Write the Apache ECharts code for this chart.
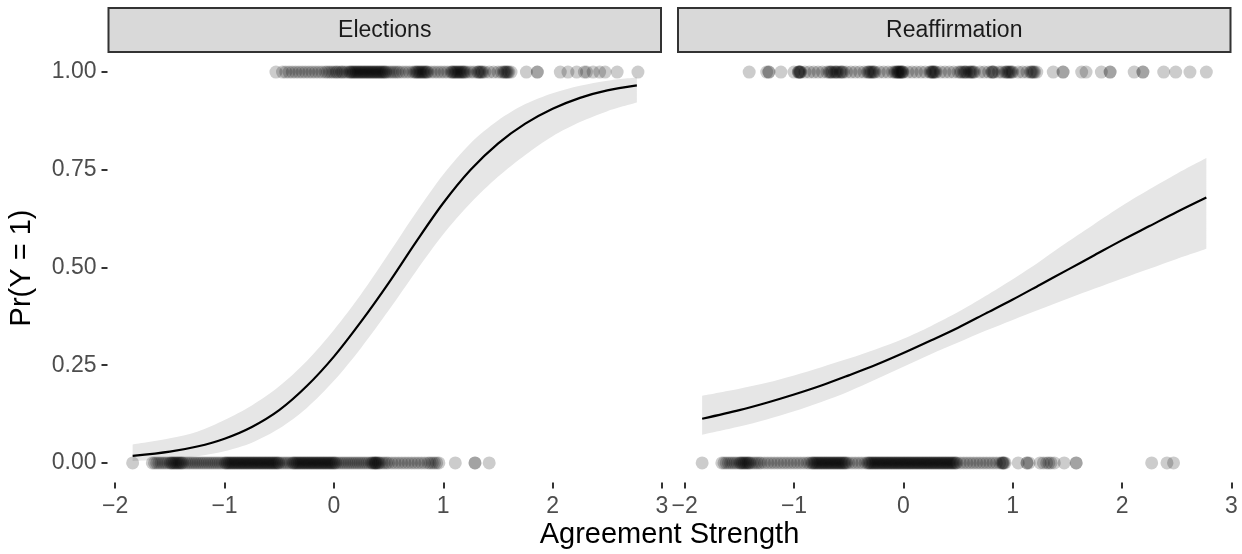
<!DOCTYPE html>
<html>
<head>
<meta charset="utf-8">
<script src="https://cdn.jsdelivr.net/npm/echarts@6/dist/echarts.min.js"></script>
<style>
html,body{margin:0;padding:0;background:#fff;}
#chart{width:1242px;height:554px;}
</style>
</head>
<body>
<div id="chart"></div>
<script>
var panelTitles = ['Elections', 'Reaffirmation'];
var xTicks = [-2, -1, 0, 1, 2, 3];
var yTicks = [0, 0.25, 0.5, 0.75, 1];
var xTitle = 'Agreement Strength';
var yTitle = 'Pr(Y = 1)';

var fitX = [-1.84, -1.5, -1.25, -1.0, -0.75, -0.5, -0.25, 0, 0.25, 0.5, 0.75, 1.0, 1.25, 1.5, 1.75, 2.0, 2.25, 2.5, 2.77];

var elecFit = [0.018, 0.029, 0.042, 0.062, 0.092, 0.135, 0.196, 0.272, 0.362, 0.46, 0.565, 0.665, 0.75, 0.817, 0.868, 0.906, 0.934, 0.953, 0.966];
var elecLo  = [0.005, 0.010, 0.017, 0.030, 0.052, 0.088, 0.140, 0.210, 0.295, 0.39, 0.49, 0.585, 0.665, 0.732, 0.788, 0.836, 0.872, 0.900, 0.922];
var elecHi  = [0.047, 0.063, 0.080, 0.110, 0.147, 0.196, 0.260, 0.340, 0.432, 0.535, 0.64, 0.738, 0.818, 0.876, 0.918, 0.946, 0.965, 0.978, 0.986];

var reafFit = [0.113, 0.135, 0.154, 0.175, 0.198, 0.224, 0.251, 0.281, 0.313, 0.346, 0.382, 0.418, 0.456, 0.494, 0.532, 0.570, 0.606, 0.642, 0.679];
var reafLo  = [0.072, 0.093, 0.111, 0.132, 0.156, 0.183, 0.214, 0.246, 0.278, 0.308, 0.338, 0.366, 0.393, 0.420, 0.446, 0.472, 0.497, 0.522, 0.548];
var reafHi  = [0.172, 0.190, 0.205, 0.224, 0.245, 0.267, 0.291, 0.318, 0.350, 0.386, 0.427, 0.470, 0.516, 0.565, 0.612, 0.658, 0.700, 0.740, 0.780];

var elecYes = [-0.53,-0.47,-0.44,-0.41,-0.38,-0.35,-0.32,-0.29,-0.26,-0.23,-0.2,-0.17,-0.14,-0.11,-0.08,-0.06,-0.04,-0.02,0.0,0.02,0.03,0.05,0.07,0.08,0.1,0.12,0.14,0.15,0.16,0.17,0.18,0.19,0.2,0.21,0.22,0.23,0.24,0.25,0.26,0.27,0.28,0.29,0.3,0.31,0.32,0.33,0.34,0.35,0.36,0.37,0.38,0.39,0.4,0.41,0.42,0.43,0.44,0.45,0.46,0.47,0.48,0.5,0.52,0.54,0.56,0.58,0.6,0.63,0.66,0.69,0.72,0.74,0.75,0.76,0.77,0.78,0.79,0.8,0.81,0.82,0.83,0.84,0.85,0.86,0.89,0.92,0.95,0.98,1.01,1.04,1.07,1.08,1.09,1.1,1.11,1.12,1.13,1.14,1.15,1.16,1.17,1.18,1.19,1.2,1.22,1.25,1.28,1.31,1.32,1.33,1.34,1.35,1.36,1.38,1.42,1.46,1.5,1.53,1.55,1.56,1.57,1.58,1.59,1.6,1.62,1.76,1.86,1.86,2.07,2.14,2.22,2.29,2.31,2.37,2.43,2.48,2.59,2.78];
var elecNo = [-1.84,-1.66,-1.64,-1.62,-1.6,-1.58,-1.56,-1.54,-1.52,-1.5,-1.49,-1.48,-1.47,-1.46,-1.45,-1.44,-1.43,-1.42,-1.41,-1.4,-1.39,-1.38,-1.36,-1.34,-1.32,-1.3,-1.28,-1.26,-1.24,-1.22,-1.2,-1.18,-1.16,-1.14,-1.12,-1.1,-1.08,-1.06,-1.04,-1.02,-1.0,-0.99,-0.98,-0.97,-0.96,-0.95,-0.94,-0.93,-0.92,-0.91,-0.9,-0.89,-0.88,-0.87,-0.86,-0.85,-0.84,-0.83,-0.82,-0.81,-0.8,-0.79,-0.78,-0.77,-0.76,-0.75,-0.74,-0.73,-0.72,-0.71,-0.7,-0.69,-0.68,-0.67,-0.66,-0.65,-0.64,-0.63,-0.62,-0.61,-0.6,-0.59,-0.58,-0.57,-0.56,-0.55,-0.54,-0.53,-0.52,-0.51,-0.5,-0.48,-0.46,-0.44,-0.42,-0.4,-0.38,-0.37,-0.36,-0.35,-0.34,-0.33,-0.32,-0.31,-0.3,-0.29,-0.28,-0.27,-0.26,-0.25,-0.24,-0.23,-0.22,-0.21,-0.2,-0.19,-0.18,-0.17,-0.16,-0.15,-0.14,-0.13,-0.12,-0.11,-0.1,-0.09,-0.08,-0.07,-0.06,-0.05,-0.04,-0.03,-0.02,-0.01,0.0,0.01,0.02,0.04,0.06,0.08,0.1,0.12,0.14,0.16,0.18,0.2,0.22,0.24,0.26,0.28,0.3,0.32,0.34,0.35,0.36,0.37,0.38,0.38,0.39,0.4,0.41,0.42,0.44,0.46,0.48,0.5,0.53,0.56,0.59,0.62,0.65,0.68,0.71,0.74,0.77,0.8,0.83,0.86,0.88,0.9,0.92,0.94,0.96,1.11,1.29,1.29,1.42];
var reafYes = [-1.41,-1.25,-1.23,-1.23,-1.12,-1.0,-0.96,-0.96,-0.95,-0.95,-0.94,-0.94,-0.9,-0.86,-0.82,-0.78,-0.74,-0.7,-0.68,-0.67,-0.66,-0.65,-0.63,-0.62,-0.61,-0.6,-0.58,-0.57,-0.56,-0.55,-0.52,-0.48,-0.44,-0.4,-0.36,-0.33,-0.32,-0.31,-0.3,-0.29,-0.28,-0.27,-0.26,-0.22,-0.18,-0.14,-0.1,-0.08,-0.07,-0.06,-0.05,-0.05,-0.04,-0.03,-0.03,-0.02,-0.01,-0.01,0.0,0.04,0.08,0.12,0.16,0.2,0.24,0.25,0.26,0.27,0.27,0.28,0.29,0.3,0.34,0.38,0.42,0.46,0.5,0.52,0.53,0.55,0.56,0.57,0.58,0.6,0.61,0.62,0.63,0.64,0.65,0.7,0.74,0.78,0.81,0.81,0.82,0.83,0.87,0.9,0.93,0.94,0.95,0.96,0.97,0.98,0.99,1.0,1.05,1.09,1.13,1.16,1.17,1.18,1.19,1.2,1.22,1.37,1.46,1.46,1.63,1.67,1.81,1.89,1.89,2.11,2.19,2.19,2.38,2.49,2.62,2.77];
var reafNo = [-1.84,-1.66,-1.64,-1.62,-1.6,-1.58,-1.56,-1.54,-1.52,-1.5,-1.49,-1.48,-1.47,-1.46,-1.45,-1.44,-1.43,-1.42,-1.41,-1.4,-1.38,-1.36,-1.34,-1.32,-1.3,-1.27,-1.24,-1.21,-1.18,-1.15,-1.12,-1.09,-1.06,-1.03,-1.0,-0.97,-0.94,-0.91,-0.88,-0.86,-0.84,-0.83,-0.82,-0.81,-0.8,-0.79,-0.78,-0.77,-0.76,-0.75,-0.74,-0.73,-0.72,-0.71,-0.7,-0.69,-0.68,-0.67,-0.66,-0.65,-0.64,-0.63,-0.62,-0.61,-0.6,-0.59,-0.58,-0.57,-0.56,-0.55,-0.54,-0.53,-0.52,-0.5,-0.47,-0.44,-0.41,-0.38,-0.35,-0.33,-0.32,-0.31,-0.3,-0.29,-0.28,-0.27,-0.26,-0.25,-0.24,-0.23,-0.22,-0.21,-0.2,-0.19,-0.18,-0.17,-0.16,-0.15,-0.14,-0.13,-0.12,-0.11,-0.1,-0.09,-0.08,-0.07,-0.06,-0.05,-0.04,-0.03,-0.02,-0.01,0.0,0.01,0.02,0.03,0.04,0.05,0.06,0.07,0.08,0.09,0.1,0.11,0.12,0.13,0.14,0.15,0.16,0.17,0.18,0.19,0.2,0.21,0.22,0.23,0.24,0.25,0.26,0.27,0.28,0.29,0.3,0.31,0.32,0.33,0.34,0.35,0.36,0.37,0.38,0.39,0.4,0.41,0.42,0.43,0.44,0.45,0.46,0.47,0.48,0.49,0.52,0.55,0.58,0.61,0.64,0.67,0.7,0.73,0.76,0.79,0.82,0.85,0.88,0.9,0.91,0.91,0.92,0.93,1.05,1.13,1.13,1.15,1.25,1.28,1.31,1.33,1.35,1.38,1.47,1.58,1.58,2.27,2.41,2.47];

var FONT = '"Liberation Sans", Arial, Helvetica, sans-serif';
var chart = echarts.init(document.getElementById('chart'), null, {renderer: 'canvas'});

function pairs(xs, ys) { return xs.map(function (x, i) { return [x, ys[i]]; }); }
function constPairs(xs, v) { return xs.map(function (x) { return [x, v]; }); }
function fmtX(v) { return v < 0 ? '\u2212' + Math.abs(v) : String(v); }

var G = [{left: 107.5, top: 52.5, width: 554.5, height: 430}, {left: 677, top: 52.5, width: 554.5, height: 430}];

function xAxisCfg(i) {
  return {
    gridIndex: i, type: 'value', min: -2.07, max: 3.0,
    axisLine: {show: false, onZero: false},
    axisTick: {show: true, length: 6, lineStyle: {color: '#333333', width: 2}, customValues: xTicks},
    axisLabel: {customValues: xTicks, formatter: fmtX, color: '#4D4D4D', fontSize: 23, fontFamily: FONT, margin: 13},
    splitLine: {show: false}
  };
}
function yAxisCfg(i) {
  return {
    gridIndex: i, type: 'value', min: -0.05, max: 1.05,
    axisLine: {show: false, onZero: false},
    axisTick: {show: i === 0, length: 6, lineStyle: {color: '#333333', width: 2}, customValues: yTicks},
    axisLabel: {show: i === 0, customValues: yTicks, formatter: function (v) { return v.toFixed(2); }, color: '#4D4D4D', fontSize: 23, fontFamily: FONT, margin: 11},
    splitLine: {show: false}
  };
}

var panels = [
  {yes: elecYes, no: elecNo, fit: elecFit, lo: elecLo, hi: elecHi},
  {yes: reafYes, no: reafNo, fit: reafFit, lo: reafLo, hi: reafHi}
];

var series = [];
panels.forEach(function (p, i) {
  // confidence band: lower bound, then (upper - lower) stacked on it; rows are [y, x] so the stack runs along y
  series.push({
    type: 'line', xAxisIndex: i, yAxisIndex: i, stack: 'band' + i,
    data: fitX.map(function (x, k) { return [p.lo[k], x]; }), encode: {x: 1, y: 0},
    symbol: 'none', smooth: 0.3, lineStyle: {width: 0, opacity: 0}, silent: true, z: 1
  });
  series.push({
    type: 'line', xAxisIndex: i, yAxisIndex: i, stack: 'band' + i,
    data: fitX.map(function (x, k) { return [p.hi[k] - p.lo[k], x]; }), encode: {x: 1, y: 0},
    symbol: 'none', smooth: 0.3, lineStyle: {width: 0, opacity: 0},
    areaStyle: {color: '#E6E6E6', opacity: 1}, silent: true, z: 1
  });
  series.push({
    type: 'scatter', xAxisIndex: i, yAxisIndex: i, data: constPairs(p.yes, 1),
    symbolSize: 13, itemStyle: {color: 'rgba(0,0,0,0.25)', borderWidth: 0}, silent: true, z: 2
  });
  series.push({
    type: 'scatter', xAxisIndex: i, yAxisIndex: i, data: constPairs(p.no, 0),
    symbolSize: 13, itemStyle: {color: 'rgba(0,0,0,0.25)', borderWidth: 0}, silent: true, z: 2
  });
  series.push({
    type: 'line', xAxisIndex: i, yAxisIndex: i, data: pairs(fitX, p.fit),
    symbol: 'none', smooth: 0.3, lineStyle: {color: '#000000', width: 2.2}, silent: true, z: 3
  });
});

var graphics = [];
G.forEach(function (g, i) {
  graphics.push({
    type: 'rect', shape: {x: g.left + 1, y: 8, width: g.width - 2, height: 44},
    style: {fill: '#D9D9D9', stroke: '#333333', lineWidth: 2}, silent: true
  });
  graphics.push({
    type: 'text', x: g.left + g.width / 2, y: 31,
    style: {text: panelTitles[i], fill: '#1A1A1A', font: '23px ' + FONT, textAlign: 'center', textVerticalAlign: 'middle'}, silent: true
  });
});
graphics.push({
  type: 'text', x: 669.5, y: 535,
  style: {text: xTitle, fill: '#000000', font: '29px ' + FONT, textAlign: 'center', textVerticalAlign: 'middle'}, silent: true
});
graphics.push({
  type: 'text', x: 22, y: 268, rotation: Math.PI / 2,
  style: {text: yTitle, fill: '#000000', font: '29px ' + FONT, textAlign: 'center', textVerticalAlign: 'middle'}, silent: true
});

chart.setOption({
  animation: false,
  backgroundColor: '#ffffff',
  grid: G.map(function (g) { return {left: g.left, top: g.top, width: g.width, height: g.height, containLabel: false}; }),
  xAxis: [xAxisCfg(0), xAxisCfg(1)],
  yAxis: [yAxisCfg(0), yAxisCfg(1)],
  series: series,
  graphic: graphics
});
</script>
</body>
</html>
